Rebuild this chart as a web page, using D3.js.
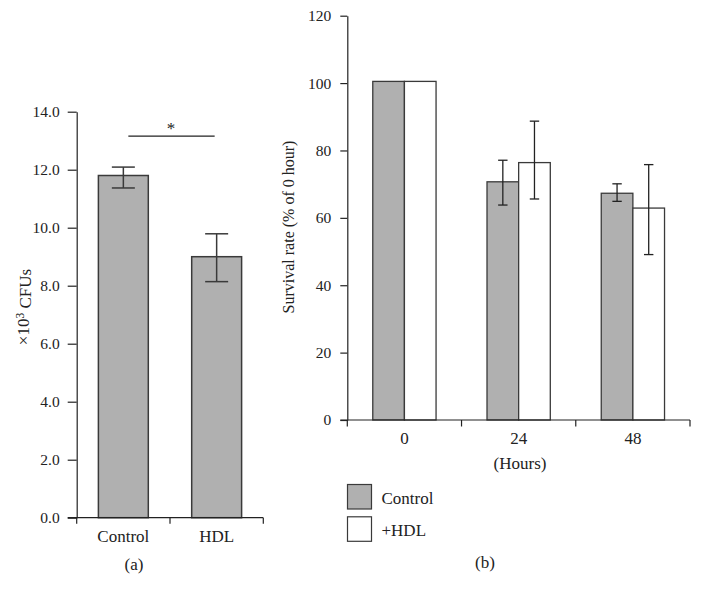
<!DOCTYPE html>
<html>
<head>
<meta charset="utf-8">
<script src="https://cdn.jsdelivr.net/npm/d3@7"></script>
<style>
  html, body { margin: 0; padding: 0; background: #fff; }
  svg { display: block; }
  text { font-family: "Liberation Serif", "DejaVu Serif", serif; fill: #222; }
</style>
</head>
<body>
<svg id="chart" width="701" height="597"></svg>
<script>
// ---------- Panel (a) data ----------
const catsA = ["Control", "HDL"];
const valuesA = [11.8, 9.0];
const errLowA = [11.37, 8.14];
const errHighA = [12.09, 9.79];
const ticksA = [0, 2, 4, 6, 8, 10, 12, 14];

// ---------- Panel (b) data ----------
const hoursB = ["0", "24", "48"];
const seriesB = ["Control", "+HDL"];
const controlB = [100.5, 70.7, 67.3];
const controlLowB = [null, 63.8, 64.9];
const controlHighB = [null, 77.1, 70.1];
const hdlB = [100.5, 76.4, 62.9];
const hdlLowB = [null, 65.6, 49.1];
const hdlHighB = [null, 88.7, 75.8];
const ticksB = [0, 20, 40, 60, 80, 100, 120];

const GRAY = "#b0b0b0";
const STROKE = "#3a3a3a";
const AX = "#222";
const FS = 15.5;   // tick labels
const LS = 17;     // text labels

const svg = d3.select("#chart");

// ================= Panel (a) =================
{
  const y = d3.scaleLinear().domain([0, 14]).range([517.7, 111.7]);
  const x = d3.scaleBand().domain(catsA).range([76.7, 263.3]).padding(0);
  const bw = x.bandwidth() * 0.535;
  const g = svg.append("g");

  g.selectAll("rect.bar").data(catsA).join("rect")
    .attr("x", (d) => x(d) + (x.bandwidth() - bw) / 2)
    .attr("y", (d, i) => y(valuesA[i]))
    .attr("width", bw)
    .attr("height", (d, i) => y(0) - y(valuesA[i]))
    .attr("fill", GRAY).attr("stroke", STROKE).attr("stroke-width", 1.5);

  const cap = 11.5;
  catsA.forEach((d, i) => {
    const cx = x(d) + x.bandwidth() / 2;
    g.append("line").attr("x1", cx).attr("x2", cx)
      .attr("y1", y(errLowA[i])).attr("y2", y(errHighA[i]))
      .attr("stroke", STROKE).attr("stroke-width", 1.5);
    [errLowA[i], errHighA[i]].forEach(v => {
      g.append("line").attr("x1", cx - cap).attr("x2", cx + cap)
        .attr("y1", y(v)).attr("y2", y(v))
        .attr("stroke", STROKE).attr("stroke-width", 1.5);
    });
  });

  const ya = g.append("g").attr("transform", `translate(${x.range()[0]},0)`)
    .call(d3.axisLeft(y).tickValues(ticksA).tickFormat(d3.format(".1f"))
      .tickSize(9).tickSizeOuter(0).tickPadding(8));
  ya.selectAll("path,line").attr("stroke", AX).attr("stroke-width", 1.2);
  ya.selectAll("text").style("font-size", FS + "px").attr("fill", AX)
    .style("font-family", '"Liberation Serif", serif');

  g.append("line").attr("x1", x.range()[0] - 9).attr("x2", x.range()[1])
    .attr("y1", y(0)).attr("y2", y(0)).attr("stroke", AX).attr("stroke-width", 1.2);
  const bounds = catsA.map(d => x(d)).concat([x.range()[1]]);
  g.selectAll("line.xt").data(bounds).join("line")
    .attr("x1", d => d).attr("x2", d => d)
    .attr("y1", y(0)).attr("y2", y(0) + 6)
    .attr("stroke", AX).attr("stroke-width", 1.2);
  g.selectAll("text.xl").data(catsA).join("text")
    .attr("x", d => x(d) + x.bandwidth() / 2)
    .attr("y", 542).attr("text-anchor", "middle")
    .style("font-size", LS + "px").text(d => d);

  const yl = g.append("text")
    .attr("transform", "translate(29,307) rotate(-90)")
    .attr("text-anchor", "middle").style("font-size", LS + "px");
  yl.append("tspan").text("×10");
  yl.append("tspan").attr("dy", "-0.45em").style("font-size", "11.5px").text("3");
  yl.append("tspan").attr("dy", "0.45em").text(" CFUs");

  const c0 = x(catsA[0]) + x.bandwidth() / 2, c1 = x(catsA[1]) + x.bandwidth() / 2;
  g.append("line").attr("x1", c0 + 5).attr("x2", c1 - 2)
    .attr("y1", y(13.16)).attr("y2", y(13.16))
    .attr("stroke", AX).attr("stroke-width", 1.2);
  g.append("text").attr("x", (c0 + c1) / 2 + 1).attr("y", 134)
    .attr("text-anchor", "middle").style("font-size", LS + "px").text("*");

  g.append("text").attr("x", 134).attr("y", 570).attr("text-anchor", "middle")
    .style("font-size", LS + "px").text("(a)");
}

// ================= Panel (b) =================
{
  const y = d3.scaleLinear().domain([0, 120]).range([420, 15.7]);
  const x = d3.scaleBand().domain(hoursB).range([347.3, 690]).padding(0);
  const inner = d3.scaleBand().domain(seriesB)
    .range([x.bandwidth() * 0.223, x.bandwidth() * 0.777]).padding(0);
  const g = svg.append("g");
  const vals = [controlB, hdlB];
  const lows = [controlLowB, hdlLowB];
  const highs = [controlHighB, hdlHighB];
  const fills = [GRAY, "#ffffff"];

  hoursB.forEach((h, i) => {
    seriesB.forEach((s, j) => {
      g.append("rect")
        .attr("x", x(h) + inner(s))
        .attr("y", y(vals[j][i]))
        .attr("width", inner.bandwidth())
        .attr("height", y(0) - y(vals[j][i]))
        .attr("fill", fills[j]).attr("stroke", STROKE).attr("stroke-width", 1.3);
    });
  });
  const cap = 4.7;
  hoursB.forEach((h, i) => {
    seriesB.forEach((s, j) => {
      if (lows[j][i] == null) return;
      const cx = x(h) + inner(s) + inner.bandwidth() / 2;
      g.append("line").attr("x1", cx).attr("x2", cx)
        .attr("y1", y(lows[j][i])).attr("y2", y(highs[j][i]))
        .attr("stroke", AX).attr("stroke-width", 1.3);
      [lows[j][i], highs[j][i]].forEach(v => {
        g.append("line").attr("x1", cx - cap).attr("x2", cx + cap)
          .attr("y1", y(v)).attr("y2", y(v))
          .attr("stroke", AX).attr("stroke-width", 1.3);
      });
    });
  });

  const ya = g.append("g").attr("transform", `translate(${x.range()[0]},0)`)
    .call(d3.axisLeft(y).tickValues(ticksB).tickFormat(d3.format("d"))
      .tickSize(7).tickSizeOuter(0).tickPadding(9));
  ya.selectAll("path,line").attr("stroke", AX).attr("stroke-width", 1.2);
  ya.selectAll("text").style("font-size", FS + "px").attr("fill", AX)
    .style("font-family", '"Liberation Serif", serif');

  g.append("line").attr("x1", x.range()[0] - 7).attr("x2", x.range()[1])
    .attr("y1", y(0)).attr("y2", y(0)).attr("stroke", AX).attr("stroke-width", 1.2);
  const bounds = hoursB.map(d => x(d)).concat([x.range()[1]]);
  g.selectAll("line.xt").data(bounds).join("line")
    .attr("x1", d => d).attr("x2", d => d)
    .attr("y1", y(0)).attr("y2", y(0) + 6.5)
    .attr("stroke", AX).attr("stroke-width", 1.2);
  g.selectAll("text.xl").data(hoursB).join("text")
    .attr("x", d => x(d) + x.bandwidth() / 2)
    .attr("y", 443.5).attr("text-anchor", "middle")
    .style("font-size", LS + "px").text(d => d);
  g.append("text").attr("x", 520).attr("y", 468.5).attr("text-anchor", "middle")
    .style("font-size", LS + "px").text("(Hours)");

  g.append("text").attr("transform", "translate(294,227) rotate(-90)")
    .attr("text-anchor", "middle").style("font-size", "16px")
    .text("Survival rate (% of 0 hour)");

  const leg = g.append("g");
  seriesB.forEach((s, j) => {
    const yy = 484.5 + j * 32.3;
    leg.append("rect").attr("x", 347.5).attr("y", yy).attr("width", 24).attr("height", 24.5)
      .attr("fill", fills[j]).attr("stroke", STROKE).attr("stroke-width", 1.2);
    leg.append("text").attr("x", 381.5).attr("y", yy + 19)
      .style("font-size", LS + "px").text(s);
  });

  g.append("text").attr("x", 485).attr("y", 568).attr("text-anchor", "middle")
    .style("font-size", LS + "px").text("(b)");
}
</script>
</body>
</html>
